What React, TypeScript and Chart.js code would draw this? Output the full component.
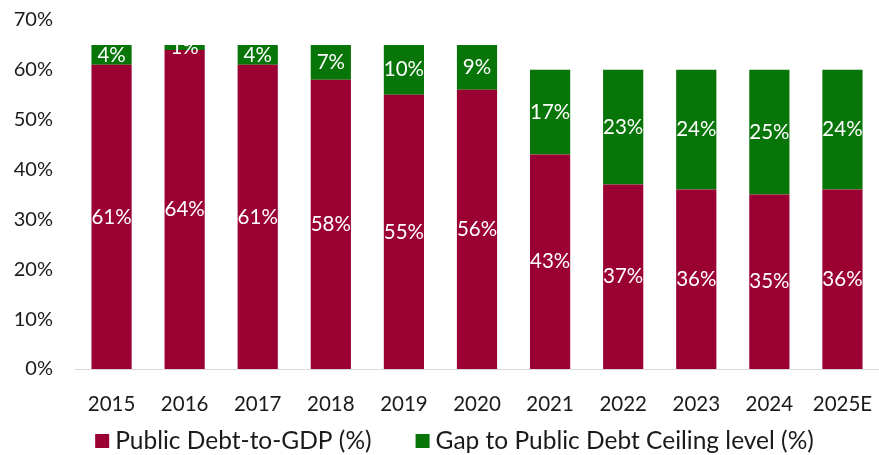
import React, { useEffect, useRef } from "react";
import { Chart, registerables } from "chart.js";

Chart.register(...registerables);

const categories = ["2015", "2016", "2017", "2018", "2019", "2020", "2021", "2022", "2023", "2024", "2025E"];
const debtToGdp = [61, 64, 61, 58, 55, 56, 43, 37, 36, 35, 36];
const gapToCeiling = [4, 1, 4, 7, 10, 9, 17, 23, 24, 25, 24];
const yTicks = [0, 10, 20, 30, 40, 50, 60, 70];

const RED = "#9b0032";
const GREEN = "#077507";
const FONT = "Lato";
const TEXT = "#1a1a1a";

const labelPlugin = {
  id: "segLabels",
  afterDatasetsDraw(chart: any) {
    const ctx = chart.ctx;
    ctx.save();
    ctx.fillStyle = "#ffffff";
    ctx.font = `20.5px ${FONT}`;
    ctx.textAlign = "center";
    ctx.textBaseline = "middle";
    chart.data.datasets.forEach((ds: any, di: number) => {
      const meta = chart.getDatasetMeta(di);
      meta.data.forEach((bar: any, i: number) => {
        const v = ds.data[i];
        const cy = (bar.y + bar.base) / 2;
        ctx.fillText(`${v}%`, bar.x, cy);
      });
    });
    ctx.restore();
  },
};

const customLegend = {
  id: "customLegend",
  afterDraw(chart: any) {
    const ctx = chart.ctx;
    const box = 14;
    const boxGap = 6;
    const itemGap = 44;
    const cy = 441;
    const centerX = 454.5;
    ctx.save();
    ctx.font = `24.5px ${FONT}`;
    ctx.textBaseline = "middle";
    ctx.textAlign = "left";
    const items = chart.data.datasets.map((ds: any) => ({
      label: ds.label,
      color: ds.backgroundColor,
      w: ctx.measureText(ds.label).width,
    }));
    let total = 0;
    items.forEach((it: any, i: number) => {
      total += box + boxGap + it.w + (i < items.length - 1 ? itemGap : 0);
    });
    let x = centerX - total / 2;
    items.forEach((it: any) => {
      ctx.fillStyle = it.color;
      ctx.fillRect(x, cy - box / 2, box, box);
      x += box + boxGap;
      ctx.fillStyle = TEXT;
      ctx.fillText(it.label, x, cy);
      x += it.w + itemGap;
    });
    ctx.restore();
  },
};

export default function App() {
  const ref = useRef<HTMLCanvasElement | null>(null);
  useEffect(() => {
    document.body.style.margin = "0";
    const chart = new Chart(ref.current as HTMLCanvasElement, {
      type: "bar",
      data: {
        labels: categories,
        datasets: [
          { label: "Public Debt-to-GDP (%)", data: debtToGdp, backgroundColor: RED },
          { label: "Gap to Public Debt Ceiling level (%)", data: gapToCeiling, backgroundColor: GREEN },
        ],
      },
      options: {
        animation: false,
        responsive: false,
        maintainAspectRatio: false,
        datasets: { bar: { barPercentage: 0.55, categoryPercentage: 1 } },
        layout: { autoPadding: false, padding: { top: 20, right: 0, left: 0, bottom: 39 } },
        plugins: {
          tooltip: { enabled: false },
          legend: { display: false },
          title: { display: false },
        },
        scales: {
          x: {
            stacked: true,
            afterFit(scale: any) {
              scale.height = 47;
              scale.paddingLeft = 0;
              scale.paddingRight = 0;
            },
            grid: { display: false, drawTicks: false },
            border: { display: true, color: "#d9d9d9", width: 1 },
            ticks: { color: TEXT, font: { family: FONT, size: 20.5 }, padding: 23, maxRotation: 0 },
          },
          y: {
            stacked: true,
            min: 0,
            max: 70,
            afterBuildTicks(scale: any) {
              scale.ticks = yTicks.map((v) => ({ value: v }));
            },
            afterFit(scale: any) {
              scale.width = 75;
              scale.paddingTop = 0;
              scale.paddingBottom = 0;
            },
            grid: { display: false, drawTicks: false },
            border: { display: false },
            ticks: {
              color: TEXT,
              font: { family: FONT, size: 20 },
              padding: 22,
              callback: (v: any) => `${v}%`,
            },
          },
        },
      },
      plugins: [labelPlugin, customLegend],
    });
    return () => chart.destroy();
  }, []);
  return <canvas ref={ref} width={879} height={455} style={{ display: "block" }} />;
}
